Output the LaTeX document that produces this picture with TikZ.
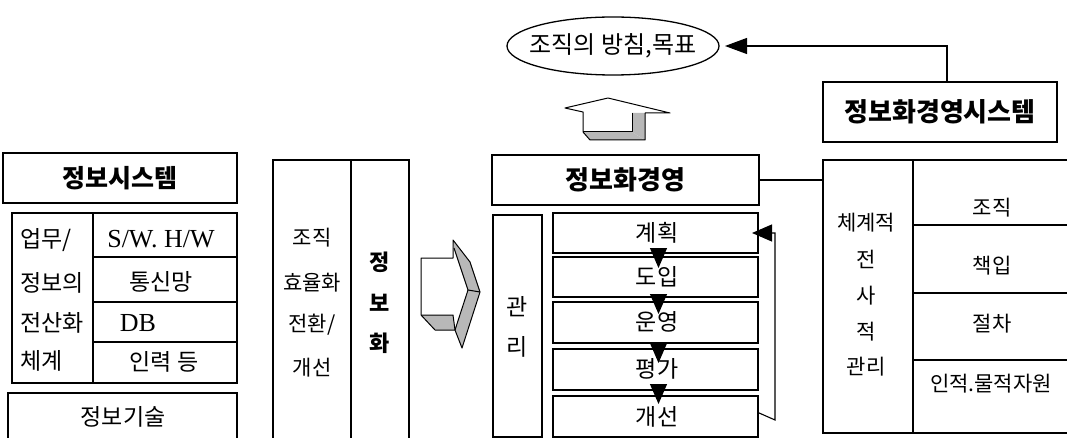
\documentclass[tikz,border=0pt]{standalone}
\usepackage{fontspec}
\newfontfamily\kr{Noto Sans CJK KR}
\newfontfamily\lat{Liberation Serif}
\usetikzlibrary{arrows.meta,shapes.geometric}
\begin{document}
\begin{tikzpicture}[x=1pt,y=-1pt,line width=1.3pt,
  box/.style={draw,line width=1.3pt,inner sep=0pt,outer sep=0pt},
  t/.style={inner sep=0pt,font=\kr\fontsize{23}{26}\selectfont},
  ts/.style={inner sep=0pt,font=\kr\fontsize{21}{24}\selectfont},
  tb/.style={inner sep=0pt,font=\kr\bfseries\fontsize{25}{28}\selectfont},
  tl/.style={inner sep=0pt,font=\lat\fontsize{26}{28}\selectfont},
  arr/.style={-{Triangle[length=20pt,width=17pt]},line width=1.1pt},
  shade3d/.style={fill=black!28,draw=black,line width=1pt}]
\useasboundingbox (0,0) rectangle (1067,438);

% ---------- left column ----------
\node[box,minimum width=234,minimum height=50] (A) at (120,178) {};
\node[tb] at (A.center) {정보시스템};

\node[box,minimum width=225,minimum height=170] (B) at (124.5,298) {};
\draw (93,213) -- (93,383);
\draw (93,257) -- (237,257);
\draw (93,302) -- (237,302);
\draw (93,342) -- (237,342);
\node[t,anchor=west] at (20,240) {업무/};
\node[t,anchor=west] at (20,283) {정보의};
\node[t,anchor=west] at (20,323) {전산화};
\node[t,anchor=west] at (20,361) {체계};
\node[tl] at (161,239) {S/W. H/W};
\node[t] at (161,282) {통신망};
\node[tl] at (138,323) {DB};
\node[t] at (164,362) {인력 등};

\draw (8,450) -- (8,393) -- (237,393) -- (237,450);
\node[t] (C) at (123,417) {정보기술};

% ---------- middle column ----------
\draw (273,450) -- (273,160) -- (409,160) -- (409,450);
\draw (351,160) -- (351,450);
\node[ts] at (312,238) {조직};
\node[ts] at (312,283) {효율화};
\node[ts] at (312,325) {전환/};
\node[ts] at (312,368) {개선};
\begin{scope}[every node/.style={inner sep=0pt,font=\kr\bfseries\fontsize{22}{24}\selectfont}]
\node at (380,262) {정};
\node at (380,303) {보};
\node at (380,343) {화};
\end{scope}

% 3D right arrow
\fill[black!28] (453,240) -- (470,262) -- (480,292) -- (468,290) -- (454,248) -- cycle;
\fill[black!28] (468,290) -- (480,292) -- (462,348) -- (455,330) -- cycle;
\fill[black!28] (421,315) -- (453,315) -- (455,330) -- (435,330) -- cycle;
\draw[line width=1pt,line join=round] (421,258) -- (453,258) -- (453,240) -- (470,262) -- (480,292)
  -- (462,348) -- (455,330) -- (435,330) -- (421,315) -- cycle;
\draw[line width=1pt] (454,248) -- (468,290) -- (480,292);
\draw[line width=1pt] (468,290) -- (455,330);
\draw[line width=1pt] (421,315) -- (453,315) -- (455,330);

% ---------- top ----------
\node[box,ellipse,minimum width=212,minimum height=58] (ell) at (613,46) {};
\node[inner sep=0pt,font=\kr\fontsize{24}{26}\selectfont] at (ell.center) {조직의 방침,목표};

% 3D up arrow
\fill[black!28] (583,132) -- (632,132) -- (645,140) -- (590,140) -- cycle;
\fill[black!28] (632,113) -- (645,113) -- (645,140) -- (632,132) -- cycle;
\draw[line width=1pt,line join=round] (565,108) -- (608,98) -- (670,113) -- (645,113) -- (645,140)
  -- (590,140) -- (583,132) -- (583,112) -- cycle;
\draw[line width=1pt] (632,113) -- (632,132) -- (583,132);

\node[box,minimum width=234,minimum height=60] (H) at (940,112) {};
\node[tb,font=\kr\bfseries\fontsize{26}{28}\selectfont] at (H.center) {정보화경영시스템};
\draw[-{Triangle[length=22pt,width=16pt]},line width=1.1pt,shorten >=6pt]
  ([xshift=7pt]H.north) |- (ell.east);

% ---------- centre ----------
\node[box,minimum width=267,minimum height=50] (E) at (625.5,180) {};
\node[tb,font=\kr\bfseries\fontsize{26}{28}\selectfont] at (E.center) {정보화경영};

\node[box,minimum width=49,minimum height=222] (G) at (517.5,326) {};
\node[t] at (517,307) {관};
\node[t] at (517,347) {리};

\node[box,minimum width=205,minimum height=40] (P1) at (655.5,233) {};
\node[box,minimum width=205,minimum height=40] (P2) at (655.5,277) {};
\node[box,minimum width=205,minimum height=41] (P3) at (655.5,322.5) {};
\node[box,minimum width=205,minimum height=41] (P4) at (655.5,369.5) {};
\node[box,minimum width=205,minimum height=41] (P5) at (655.5,416.5) {};
\node[t] at (657,233) {계획};
\node[t] at (657,277) {도입};
\node[t] at (657,322) {운영};
\node[t] at (657,369) {평가};
\node[t] at (657,417) {개선};

\draw[arr] ([xshift=3pt]P1.south) -- ++(0,15);
\draw[arr] ([xshift=3pt]P2.south) -- ++(0,17);
\draw[arr] ([xshift=3pt]P3.south) -- ++(0,20);
\draw[arr] ([xshift=3pt]P4.south) -- ++(0,14);
\coordinate (fb) at (775,420);
\draw[arr] ([yshift=4pt]P5.east) -- (fb) |- ([xshift=-6pt]P1.east);

% ---------- right ----------
\node[box,minimum width=90,minimum height=273] (F) at (868,296.5) {};
\draw (823,160) -- (1067,160);
\draw (823,433) -- (1067,433);
\draw (913,225) -- (1067,225);
\draw (913,293) -- (1067,293);
\draw (913,360) -- (1067,360);
\node[ts] at (866,223) {체계적};
\node[ts] at (866,259) {전};
\node[ts] at (866,296) {사};
\node[ts] at (866,332) {적};
\node[ts] at (866,367) {관리};
\node[ts] at (992,208) {조직};
\node[ts] at (992,266) {책입};
\node[ts] at (992,324) {절차};
\node[ts] at (991,384) {인적.물적자원};

\draw (E.east) -- (E.east -| F.west);
\end{tikzpicture}
\end{document}
